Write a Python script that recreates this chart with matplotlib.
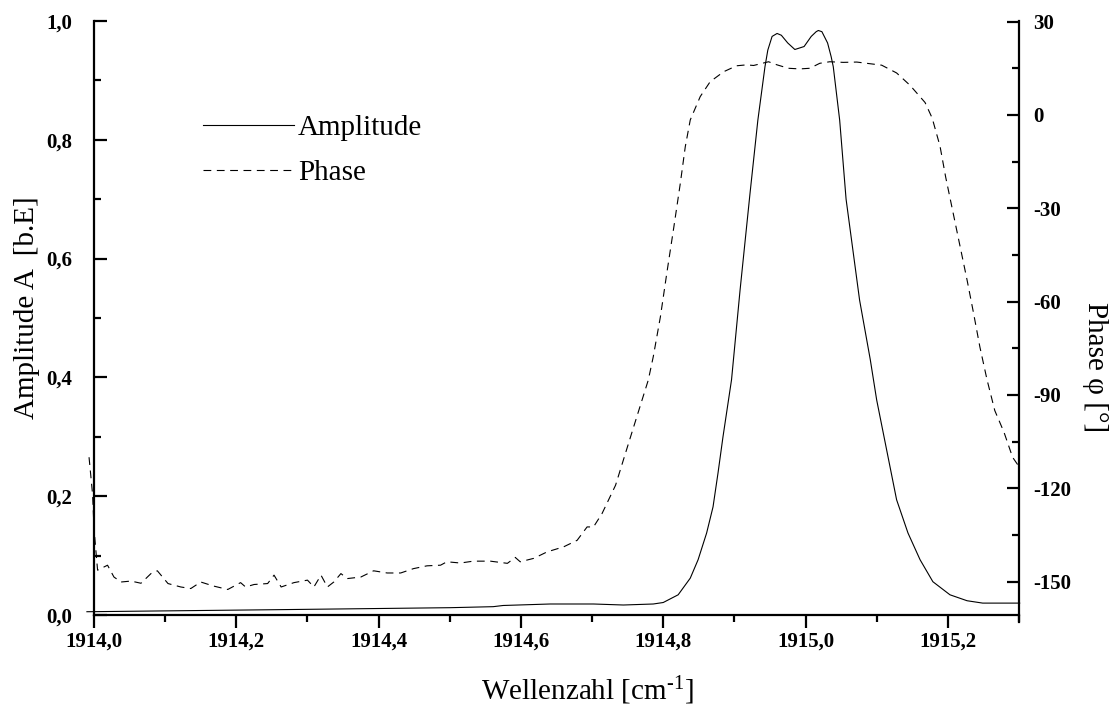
import matplotlib
matplotlib.use("Agg")
import matplotlib.pyplot as plt
from matplotlib.ticker import MultipleLocator, FuncFormatter

plt.rcParams['font.family'] = ['Liberation Serif', 'DejaVu Serif']
plt.rcParams['mathtext.fontset'] = 'custom'
plt.rcParams['mathtext.rm'] = 'Liberation Serif'
plt.rcParams['mathtext.it'] = 'Liberation Serif:italic'
plt.rcParams['axes.unicode_minus'] = False

# amplitude spectrum (arb. units)
amp_wn = [1913.99, 1914.000, 1914.262, 1914.501, 1914.561, 1914.575, 1914.641,
          1914.702, 1914.744, 1914.786, 1914.800, 1914.821, 1914.838, 1914.849,
          1914.861, 1914.870, 1914.877, 1914.884, 1914.896, 1914.908, 1914.922,
          1914.933, 1914.943, 1914.947, 1914.953, 1914.960, 1914.966, 1914.975,
          1914.985, 1914.998, 1915.008, 1915.015, 1915.018, 1915.023, 1915.031,
          1915.036, 1915.039, 1915.048, 1915.057, 1915.076, 1915.091, 1915.100,
          1915.114, 1915.128, 1915.144, 1915.161, 1915.179, 1915.203, 1915.227,
          1915.249, 1915.301]
amp = [0.0055, 0.0056, 0.009, 0.0123, 0.014, 0.016, 0.0185,
       0.0185, 0.0168, 0.0185, 0.021, 0.034, 0.062, 0.093,
       0.138, 0.182, 0.239, 0.300, 0.396, 0.547, 0.710,
       0.833, 0.923, 0.951, 0.974, 0.979, 0.976, 0.963,
       0.952, 0.957, 0.974, 0.982, 0.984, 0.982, 0.963,
       0.940, 0.923, 0.833, 0.700, 0.530, 0.430, 0.362,
       0.278, 0.194, 0.138, 0.093, 0.056, 0.034, 0.024,
       0.020, 0.020]

# phase in degrees
phase_wn = [1913.993, 1913.998, 1914.000, 1914.003, 1914.005, 1914.019, 1914.028,
            1914.038, 1914.052, 1914.066, 1914.080, 1914.089, 1914.104, 1914.122,
            1914.136, 1914.150, 1914.168, 1914.188, 1914.206, 1914.213, 1914.225,
            1914.244, 1914.253, 1914.263, 1914.281, 1914.300, 1914.309, 1914.319,
            1914.328, 1914.337, 1914.347, 1914.356, 1914.375, 1914.393, 1914.412,
            1914.431, 1914.449, 1914.468, 1914.487, 1914.496, 1914.515, 1914.533,
            1914.557, 1914.581, 1914.592, 1914.599, 1914.618, 1914.637, 1914.660,
            1914.679, 1914.693, 1914.702, 1914.714, 1914.723, 1914.733, 1914.754,
            1914.779, 1914.786, 1914.796, 1914.805, 1914.815, 1914.824, 1914.831,
            1914.838, 1914.852, 1914.866, 1914.885, 1914.903, 1914.917, 1914.927,
            1914.948, 1914.960, 1914.976, 1914.992, 1915.006, 1915.020, 1915.034,
            1915.053, 1915.072, 1915.086, 1915.107, 1915.128, 1915.147, 1915.168,
            1915.178, 1915.189, 1915.197, 1915.207, 1915.217, 1915.227, 1915.236,
            1915.245, 1915.255, 1915.266, 1915.279, 1915.291, 1915.300]
phase = [-110, -122, -133, -141, -146.3, -144.7, -148.5,
         -150.1, -149.8, -150.5, -147.4, -146.5, -150.6, -151.7,
         -152.2, -150.1, -151.4, -152.5, -150.3, -151.7, -150.9,
         -150.6, -147.9, -151.7, -150.3, -149.5, -151.7, -147.9,
         -151.7, -150.1, -147.4, -149.0, -148.5, -146.5, -147.2,
         -147.2, -145.8, -144.9, -144.7, -143.6, -144.0, -143.4,
         -143.4, -144.1, -142.2, -143.6, -142.5, -140.4, -138.8,
         -136.7, -132.4, -132.4, -128.1, -123.8, -119.0, -103.5,
         -85.2, -77.7, -64.9, -50.9, -35.9, -22.0, -10.2,
         -1.6, 5.9, 10.7, 13.9, 15.8, 16.1, 15.9,
         17.1, 16.1, 15.0, 14.8, 15.0, 16.6, 17.1,
         16.9, 17.0, 16.6, 16.0, 13.5, 9.5, 4.0,
         -1.0, -10.0, -20.0, -31.0, -42.0, -53.0, -63.5,
         -74.5, -85.0, -95.0, -102.0, -110.0, -113.0]

xticks = [1914.0, 1914.2, 1914.4, 1914.6, 1914.8, 1915.0, 1915.2]

def comma(fmt):
    return FuncFormatter(lambda v, pos: (fmt % v).replace('.', ','))

fig = plt.figure(figsize=(11.14, 7.09), dpi=100)
ax = fig.add_axes([0.0844, 0.1326, 0.8303, 0.8378])
ax2 = ax.twinx()

l1, = ax.plot(amp_wn, amp, color='black', lw=0.8, clip_on=False, label='Amplitude')
l2, = ax2.plot(phase_wn, phase, color='black', lw=0.8, clip_on=False,
               dashes=(7, 5), label='Phase')

ax.set_xlim(1914.0, 1915.3)
ax.set_ylim(0.0, 1.0)
ax2.set_ylim(-160.7, 30.2)

for a in (ax, ax2):
    a.spines['top'].set_visible(False)
    for s in a.spines.values():
        s.set_linewidth(1.6)
ax.spines['right'].set_visible(False)
ax2.spines['left'].set_visible(False)
ax2.spines['bottom'].set_visible(False)
ax2.spines['right'].set_bounds(-163, 30.2)

ax.set_xticks(xticks)
ax.xaxis.set_minor_locator(MultipleLocator(0.1))
ax.xaxis.set_major_formatter(comma('%.1f'))
ax.yaxis.set_major_locator(MultipleLocator(0.2))
ax.yaxis.set_minor_locator(MultipleLocator(0.1))
ax.yaxis.set_major_formatter(comma('%.1f'))
ax2.yaxis.set_major_locator(MultipleLocator(30))
ax2.yaxis.set_minor_locator(MultipleLocator(15))

ax.tick_params(axis='x', which='major', direction='out', length=9, width=1.6, pad=3)
ax.tick_params(axis='x', which='minor', direction='out', length=5, width=1.6)
ax.tick_params(axis='y', which='major', direction='in', length=9, width=1.6, pad=16)
ax.tick_params(axis='y', which='minor', direction='in', length=5, width=1.6)
ax2.tick_params(axis='y', which='major', direction='in', length=9, width=1.6, pad=10)
ax2.tick_params(axis='y', which='minor', direction='in', length=5, width=1.6)

for lab in ax.get_xticklabels() + ax.get_yticklabels() + ax2.get_yticklabels():
    lab.set_fontweight('bold')
    lab.set_fontsize(15)

ax.set_xlabel(r'Wellenzahl [cm$^{\text{-1}}$]', fontsize=21, va='center')
ax.xaxis.set_label_coords(0.533, -0.128)
ax.set_ylabel('Amplitude A  [b.E]', fontsize=21, va='center', ha='center')
ax.yaxis.set_label_coords(-0.072, 0.518)
ax2.set_ylabel('Phase φ [°]', fontsize=21, rotation=-90, va='center', ha='center')
ax2.yaxis.set_label_coords(1.082, 0.4175)

ax.legend(handles=[l1, l2], loc='upper left', bbox_to_anchor=(0.118, 0.842),
          frameon=False, fontsize=21, handlelength=3.1, handletextpad=0.15,
          labelspacing=0.62, borderpad=0, borderaxespad=0)

fig.savefig('out.png', dpi=100)
